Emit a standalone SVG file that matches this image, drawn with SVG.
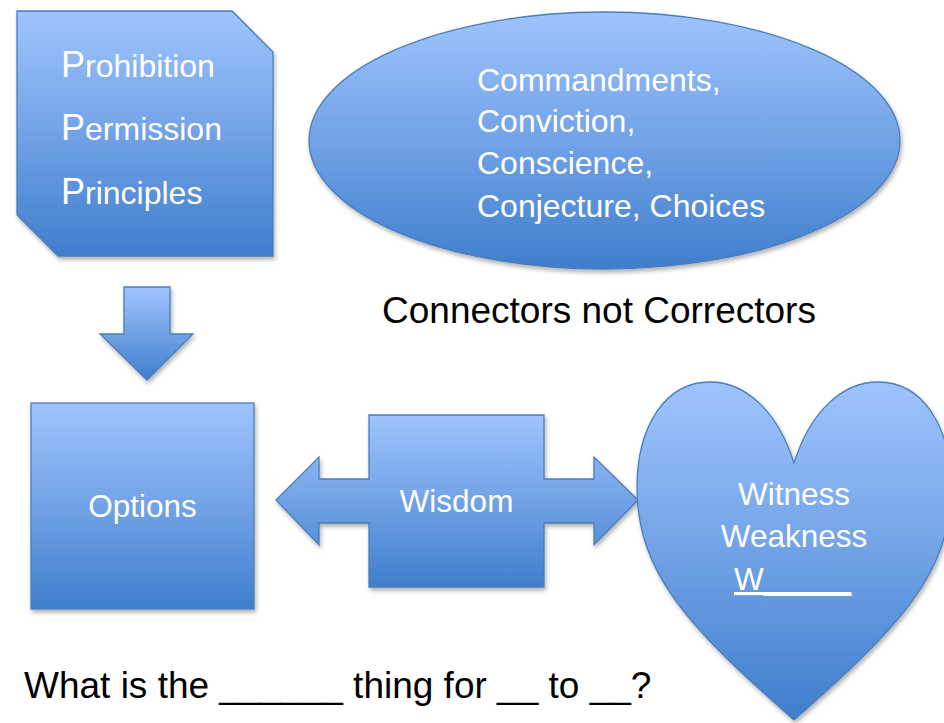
<svg xmlns="http://www.w3.org/2000/svg" width="944" height="723" viewBox="0 0 944 723">
  <style>
    .shape { fill: url(#blueGrad); stroke: #4A7EBB; stroke-width: 1.3; filter: url(#shadow); }
    .wt { font-family: "Liberation Sans", Arial, sans-serif; fill: #FFFFFF; font-size: 32px; }
    .bt { font-family: "Liberation Sans", Arial, sans-serif; fill: #000000; font-size: 37px; }
    .big { font-size: 36px; }
  </style>
  <defs>
    <linearGradient id="blueGrad" x1="0" y1="0" x2="0" y2="1">
      <stop offset="0" stop-color="#9EC4FE"/>
      <stop offset="0.5" stop-color="#72A2E6"/>
      <stop offset="1" stop-color="#3F7ECC"/>
    </linearGradient>
    <filter id="shadow" x="-10%" y="-10%" width="120%" height="125%">
      <feDropShadow dx="1.5" dy="3" stdDeviation="2" flood-color="#000000" flood-opacity="0.3"/>
    </filter>
  </defs>
  <rect width="944" height="723" fill="#FFFFFF"/>

  <g id="node-principles">
    <path class="shape" d="M17,11 H232 L273,52 V256 H58 L17,215 Z"/>
    <text class="wt" x="61" y="77"><tspan class="big">P</tspan>rohibition</text>
    <text class="wt" x="61" y="140"><tspan class="big">P</tspan>ermission</text>
    <text class="wt" x="61" y="204"><tspan class="big">P</tspan>rinciples</text>
  </g>

  <g id="node-commandments">
    <ellipse class="shape" cx="604.5" cy="140.5" rx="295.5" ry="128.5"/>
    <text class="wt" x="477" y="91">Commandments,</text>
    <text class="wt" x="477" y="132">Conviction,</text>
    <text class="wt" x="477" y="174">Conscience,</text>
    <text class="wt" x="477" y="217">Conjecture, Choices</text>
  </g>

  <g id="node-connectors-label">
    <text class="bt" x="382" y="323">Connectors not Correctors</text>
  </g>

  <g id="connectors">
    <path class="shape" d="M124,287 H170 V334 H193 L147,380 L100,334 H124 Z"/>
  </g>

  <g id="node-options">
    <rect class="shape" x="31" y="403" width="223" height="206"/>
    <text class="wt" x="142.5" y="517" text-anchor="middle" style="font-size:31.5px">Options</text>
  </g>

  <g id="node-wisdom">
    <path class="shape" d="M276,500 L319,457 V479 H369 V415 H544 V479 H594 V457 L638,500 L594,545 V523 H544 V587 H369 V523 H319 V545 Z"/>
    <text class="wt" x="456.5" y="512" text-anchor="middle" style="font-size:31.5px">Wisdom</text>
  </g>

  <g id="node-heart">
    <path class="shape" d="M794,463 C778,412 746,382 710,382 C666,382 637,425 637,488 C637,575 692,630 794,720 C896,630 951,575 951,488 C951,425 922,382 878,382 C842,382 810,412 794,463 Z"/>
    <text class="wt" x="794" y="505" text-anchor="middle" style="font-size:31.5px">Witness</text>
    <text class="wt" x="794" y="547" text-anchor="middle" style="font-size:31.5px">Weakness</text>
    <text class="wt" x="734" y="590" style="font-size:31.5px" text-decoration="underline">W_____</text>
  </g>

  <g id="node-question">
    <text class="bt" x="24" y="698">What is the ______ thing for __ to __?</text>
  </g>
</svg>
